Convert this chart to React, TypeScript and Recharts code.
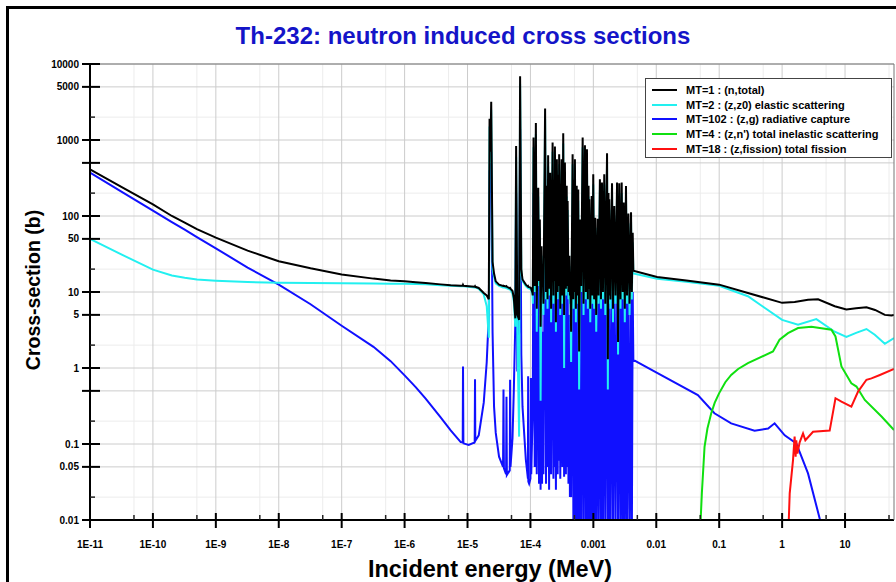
import React from "react";
import { CartesianGrid, Line, LineChart, XAxis, YAxis } from "recharts";

const FONT = '"Liberation Sans", Arial, sans-serif';

// energies in MeV, cross sections in barns

// smooth 1/v region and the first resolved resonances
const lowE = [
  1e-11, 3.2e-11, 1e-10, 2e-10, 3.2e-10, 5e-10, 1e-9, 3.2e-9, 1e-8, 3.2e-8,
  1e-7, 3.2e-7, 6e-7, 1e-6, 1.5e-6,
  2.16e-6, 3.74e-6, 5.4e-6, 7.8e-6, 8.39e-6, 8.48e-6, 8.6e-6, 1.045e-5, 1.3e-5, 1.316e-5,
  1.33e-5, 1.507e-5, 1.81e-5, 2.02e-5, 2.18e-5, 2.24e-5, 2.31e-5, 2.38e-5, 2.5e-5, 2.64e-5,
  2.81e-5, 3.17e-5, 3.67e-5, 3.73e-5, 3.79e-5, 4.1e-5, 4.16e-5, 4.22e-5, 4.69e-5, 4.75e-5,
  4.82e-5, 5.19e-5, 5.44e-5, 5.75e-5, 5.92e-5, 6.19e-5, 6.61e-5, 6.85e-5, 7.16e-5, 7.48e-5,
  8.45e-5, 9.12e-5, 9.19e-5, 9.26e-5, 9.53e-5, 1e-4, 1.015e-4, 1.03e-4, 1.08e-4,
];
const lowTotal = [
  412, 239, 142, 100, 82, 67, 52, 35, 25.4, 20.5,
  17, 15, 14.2, 13.8, 13.4,
  13.1, 12.6, 12.3, 12.1, 12.1, 12.4, 12.1, 11.9, 11.7, 11.9,
  11.7, 11.3, 9.7, 9, 8, 1900, 700, 3190, 25, 17.5,
  13.8, 12.5, 12, 12.1, 12, 11.8, 11.9, 11.7, 11.2, 11.3,
  11.1, 10.3, 8.4, 4.5, 836, 5, 4.3, 6890, 20, 14.6,
  12.5, 11.8, 11.9, 11.7, 11.6, 11.4, 11.3, 11, 9.7,
];
const lowElastic = [
  50, 31, 19.7, 16.5, 15.4, 14.6, 14.1, 13.5, 13.2, 13.1,
  13, 12.9, 12.85, 12.8, 12.7,
  12.6, 12.3, 12.1, 11.9, 11.9, 11.9, 11.9, 11.7, 11.5, 11.5,
  11.5, 11, 9.3, 6.5, 2.5, 1500, 500, 2500, 20, 16,
  13, 12, 11.5, 11.5, 11.5, 11.3, 11.3, 11.2, 10.8, 10.8,
  10.7, 9.5, 7.5, 3.5, 600, 3, 0.125, 5500, 18, 14,
  12, 11.3, 11.3, 11.2, 11.1, 10.9, 10.8, 10.5, 9,
];
const lowCapture = [
  372, 208, 118, 83, 66, 52.6, 37.5, 21, 12.5, 6.9,
  3.6, 1.9, 1.23, 0.8, 0.56,
  0.396, 0.224, 0.151, 0.106, 0.105, 1.05, 0.102, 0.097, 0.105, 0.71,
  0.11, 0.13, 0.35, 1.2, 5, 400, 200, 700, 3, 0.31,
  0.14, 0.068, 0.05, 0.52, 0.048, 0.04, 0.42, 0.039, 0.045, 0.7,
  0.05, 0.12, 0.5, 3.9, 200, 0.9, 3, 1400, 1.5, 0.31,
  0.062, 0.035, 0.78, 0.032, 0.03, 0.035, 0.74, 0.04, 0.21,
];

// dense resolved resonance region, ~0.1 keV to ~4 keV
const denseE = [
  1.09e-4, 1.12e-4, 1.17e-4, 1.22e-4, 1.26e-4, 1.33e-4, 1.37e-4, 1.41e-4, 1.45e-4, 1.5e-4,
  1.53e-4, 1.56e-4, 1.61e-4, 1.71e-4, 1.77e-4, 1.82e-4, 1.87e-4, 1.91e-4, 1.98e-4, 2.06e-4,
  2.13e-4, 2.25e-4, 2.32e-4, 2.38e-4, 2.42e-4, 2.45e-4, 2.54e-4, 2.63e-4, 2.71e-4, 2.78e-4,
  2.82e-4, 2.86e-4, 2.98e-4, 3.13e-4, 3.22e-4, 3.32e-4, 3.43e-4, 3.53e-4, 3.66e-4, 3.77e-4,
  3.83e-4, 3.9e-4, 4.02e-4, 4.16e-4, 4.24e-4, 4.29e-4, 4.43e-4, 4.68e-4, 4.82e-4, 4.94e-4,
  5.02e-4, 5.09e-4, 5.28e-4, 5.44e-4, 5.56e-4, 5.75e-4, 5.94e-4, 6.18e-4, 6.41e-4, 6.76e-4,
  6.98e-4, 7.35e-4, 7.6e-4, 7.91e-4, 8.17e-4, 8.39e-4, 8.51e-4, 8.61e-4, 8.93e-4, 9.4e-4,
  9.68e-4, 9.96e-4, 1.03e-3, 1.07e-3, 1.11e-3, 1.17e-3, 1.21e-3, 1.27e-3, 1.32e-3, 1.37e-3,
  1.42e-3, 1.49e-3, 1.55e-3, 1.65e-3, 1.7e-3, 1.74e-3, 1.77e-3, 1.79e-3, 1.87e-3, 1.98e-3,
  2.05e-3, 2.15e-3, 2.25e-3, 2.38e-3, 2.47e-3, 2.58e-3, 2.7e-3, 2.82e-3, 2.93e-3, 3.04e-3,
  3.16e-3, 3.3e-3, 3.43e-3, 3.6e-3, 3.76e-3, 3.97e-3, 4.09e-3, 4.22e-3, 4.32e-3,
];
const denseTotal = [
  9, 1080, 12, 1670, 6, 236, 14, 90, 3.5, 40,
  12, 21.8, 7, 2600, 10, 250, 8, 630, 11, 372,
  6, 927, 9, 300, 14, 820, 4, 558, 10, 350,
  12, 650, 6, 558, 9, 1230, 5, 505, 11, 250,
  12, 157, 10, 30, 9, 17.9, 3, 650, 8, 300,
  10, 558, 6, 250, 9, 224, 1.65, 90, 12, 1080,
  7, 853, 10, 757, 8, 250, 11, 166, 6, 183,
  9, 354, 8, 95, 5, 92, 9, 304, 8, 275,
  10, 354, 7, 670, 1.3, 200, 9, 166, 8, 269,
  6, 135, 9, 275, 2.2, 269, 8, 275, 10, 150,
  6, 248, 9, 108, 7, 112, 10, 60, 19,
];
const denseElastic = [
  7, 800, 10, 1200, 3, 180, 12, 70, 0.37, 30,
  10, 18, 5, 1900, 8, 180, 6, 450, 9, 280,
  4, 700, 7, 220, 12, 600, 3, 400, 8, 250,
  10, 480, 5, 400, 7, 900, 1.0, 380, 9, 180,
  10, 120, 8, 22, 7, 15, 1.2, 480, 6, 220,
  8, 400, 4, 180, 7, 160, 0.52, 65, 10, 800,
  5, 620, 8, 550, 6, 180, 9, 120, 4, 130,
  7, 260, 6, 70, 3, 70, 7, 220, 6, 200,
  8, 260, 5, 500, 0.52, 150, 7, 120, 6, 200,
  4, 100, 7, 200, 1.5, 200, 6, 200, 8, 110,
  4, 180, 7, 80, 5, 85, 8, 45, 17.5,
];
const denseCapture = [
  0.4, 200, 0.05, 300, 0.04, 40, 0.03, 10, 0.025, 6,
  0.03, 3, 0.04, 400, 0.03, 40, 0.05, 90, 0.025, 60,
  0.04, 150, 0.035, 45, 0.05, 120, 0.025, 80, 0.04, 50,
  0.06, 100, 0.035, 80, 0.05, 200, 0.037, 70, 0.04, 40,
  0.05, 20, 0.03, 5, 0.02, 2, 0.02, 100, 0.005, 45,
  0.008, 80, 0.005, 40, 0.005, 30, 0.005, 12, 0.005, 200,
  0.005, 150, 0.005, 120, 0.006, 40, 0.005, 25, 0.005, 25,
  0.005, 50, 0.005, 14, 0.005, 14, 0.005, 45, 0.005, 40,
  0.005, 50, 0.005, 100, 0.005, 30, 0.005, 25, 0.005, 40,
  0.005, 20, 0.005, 40, 0.005, 40, 0.005, 40, 0.005, 20,
  0.005, 35, 0.005, 15, 0.005, 15, 0.005, 10, 1.28,
];

// smooth fast-neutron region
const totalHiE = [0.0103, 0.03, 0.1, 0.286, 0.526, 1.0, 1.58, 2.58, 3.73, 6.86, 10.5, 15, 21.9, 30, 42.9, 54.8, 60];
const totalHi = [15.8, 14.2, 12.5, 9.7, 8.4, 7.2, 7.4, 7.9, 8.0, 6.5, 5.9, 6.1, 6.3, 5.8, 5.0, 4.9, 5.0];

const elasticHiE = [0.0103, 0.03, 0.1, 0.286, 0.526, 1.0, 1.79, 3.5, 6.86, 10.5, 15, 21.9, 29.7, 42.9, 60];
const elasticHi = [14.9, 13.6, 12.1, 8.8, 6.2, 4.3, 3.7, 4.4, 3.0, 2.56, 2.9, 3.26, 2.74, 2.08, 2.48];

const captureHiE = [0.0103, 0.0458, 0.084, 0.155, 0.365, 0.6, 0.76, 1.1, 1.68, 2.58, 3.95, 4.4];
const captureHi = [0.86, 0.44, 0.254, 0.187, 0.15, 0.16, 0.187, 0.13, 0.102, 0.041, 0.0105, 0.006];

const inelE = [0.0503, 0.051, 0.053, 0.0585, 0.065, 0.0747, 0.085, 0.1, 0.125, 0.155, 0.2, 0.286, 0.716, 0.91, 1.24, 1.79, 2.92, 6.07, 7.05, 8.77, 12.6, 15.2, 20.6, 38, 60];
const inel = [0.004, 0.011, 0.0224, 0.092, 0.16, 0.254, 0.35, 0.467, 0.65, 0.81, 0.97, 1.16, 1.65, 2.36, 2.88, 3.36, 3.5, 3.19, 2.6, 1.05, 0.63, 0.57, 0.38, 0.23, 0.153];

const fisE = [1.24, 1.32, 1.49, 1.58, 1.64, 1.68, 1.75, 1.9, 2.15, 2.34, 3.1, 5.7, 7.05, 8.77, 12.6, 16.1, 21.9, 26.3, 35.8, 60];
const fis = [0.005, 0.0224, 0.0615, 0.125, 0.068, 0.112, 0.075, 0.105, 0.138, 0.112, 0.145, 0.15, 0.4, 0.36, 0.31, 0.49, 0.7, 0.73, 0.81, 0.97];

const seriesNames = [
  "MT=1 : (n,total)",
  "MT=2 : (z,z0) elastic scattering",
  "MT=102 : (z,g) radiative capture",
  "MT=4 : (z,n') total inelastic scattering",
  "MT=18 : (z,fission) total fission",
];
const seriesColors = ["#000000", "#22f0f0", "#1010ff", "#10e010", "#ff1010"];

const xMajor = [1e-11, 1e-10, 1e-9, 1e-8, 1e-7, 1e-6, 1e-5, 1e-4, 1e-3, 0.01, 0.1, 1, 10];
const xMinor = [5e-11, 5e-10, 5e-9, 5e-8, 5e-7, 5e-6, 5e-5, 5e-4, 5e-3, 0.05, 0.5, 5, 50];
const xLabels = ["1E-11", "1E-10", "1E-9", "1E-8", "1E-7", "1E-6", "1E-5", "1E-4", "0.001", "0.01", "0.1", "1", "10"];

const yTicks = [0.01, 0.02, 0.05, 0.1, 0.2, 0.5, 1, 2, 5, 10, 20, 50, 100, 200, 500, 1000, 2000, 5000, 10000];
const yLabeled = [0.01, 0.05, 0.1, 1, 5, 10, 50, 100, 1000, 5000, 10000];
const yLong = [0.01, 0.05, 0.1, 0.5, 1, 5, 10, 50, 100, 500, 1000, 5000, 10000];
const yMinorGrid = [0.02, 0.2, 2, 20, 200, 2000];

const xTicks = xMajor.flatMap((v, i) => [v, xMinor[i]]);

const toPoints = (e: number[], xs: number[]) => e.map((v, i) => ({ e: v, xs: xs[i] }));

const totalData = [...toPoints(lowE, lowTotal), ...toPoints(denseE, denseTotal), ...toPoints(totalHiE, totalHi)];
const elasticData = [...toPoints(lowE, lowElastic), ...toPoints(denseE, denseElastic), ...toPoints(elasticHiE, elasticHi)];
const captureData = [...toPoints(lowE, lowCapture), ...toPoints(denseE, denseCapture), ...toPoints(captureHiE, captureHi)];
const inelData = toPoints(inelE, inel);
const fisData = toPoints(fisE, fis);

function XTick(props: any) {
  const { x, y, payload } = props;
  const i = xMajor.indexOf(payload.value);
  if (i < 0) {
    return <line x1={x} y1={y - 5} x2={x} y2={y} stroke="#222" strokeWidth={1.5} />;
  }
  return (
    <g>
      <line x1={x} y1={y - 7} x2={x} y2={y + 8} stroke="#000" strokeWidth={2} />
      <text x={x} y={y + 28} textAnchor="middle" fontFamily={FONT} fontSize={10} fontWeight={700} fill="#000">
        {xLabels[i]}
      </text>
    </g>
  );
}

function YTick(props: any) {
  const { x, y, payload } = props;
  const v = payload.value;
  if (!yLong.includes(v)) {
    return <line x1={x} y1={y} x2={x + 5} y2={y} stroke="#222" strokeWidth={1.5} />;
  }
  return (
    <g>
      <line x1={x - 8} y1={y} x2={x + 10} y2={y} stroke="#000" strokeWidth={2} />
      {yLabeled.includes(v) && (
        <text x={x - 11} y={y} dy="0.35em" textAnchor="end" fontFamily={FONT} fontSize={10} fontWeight={700} fill="#000">
          {String(v)}
        </text>
      )}
    </g>
  );
}

export default function App() {
  return (
    <div style={{ position: "absolute", left: 0, top: 0, width: 896, height: 582, background: "#fff", overflow: "hidden", fontFamily: FONT }}>
      <div style={{ position: "absolute", left: 6, top: 6, width: 1000, height: 1000, borderLeft: "3px solid #000", borderTop: "3px solid #000" }} />
      <div style={{ position: "absolute", left: 463, top: 36, transform: "translate(-50%, -50%)", color: "#1414c8", fontSize: 24, fontWeight: 700, whiteSpace: "nowrap" }}>
        Th-232: neutron induced cross sections
      </div>
      <div style={{ position: "absolute", left: 0, top: 0 }}>
        <LineChart width={896} height={582} margin={{ top: 64, right: 2, bottom: 22, left: 10 }}>
          <CartesianGrid stroke="#ececec" verticalValues={xMinor} horizontalValues={yMinorGrid} />
          <CartesianGrid stroke="#cccccc" verticalValues={xMajor} horizontalValues={yLong} />
          <XAxis
            dataKey="e"
            type="number"
            scale="log"
            domain={[1e-11, 60]}
            allowDataOverflow
            ticks={xTicks}
            interval={0}
            tick={<XTick />}
            tickLine={false}
            tickSize={0}
            tickMargin={0}
            height={40}
            axisLine={{ stroke: "#000", strokeWidth: 2 }}
          />
          <XAxis
            xAxisId="top"
            orientation="top"
            dataKey="e"
            type="number"
            scale="log"
            domain={[1e-11, 60]}
            allowDataOverflow
            ticks={xTicks}
            interval={0}
            tick={false}
            tickSize={5}
            mirror
            height={1}
            axisLine={{ stroke: "#777" }}
            tickLine={{ stroke: "#444" }}
          />
          <YAxis
            type="number"
            scale="log"
            domain={[0.01, 10000]}
            allowDataOverflow
            ticks={yTicks}
            interval={0}
            tick={<YTick />}
            tickLine={false}
            tickSize={0}
            tickMargin={0}
            width={80}
            axisLine={{ stroke: "#000", strokeWidth: 2 }}
          />
          <YAxis
            yAxisId="right"
            orientation="right"
            type="number"
            scale="log"
            domain={[0.01, 10000]}
            allowDataOverflow
            ticks={yTicks}
            interval={0}
            tick={false}
            tickSize={5}
            mirror
            width={1}
            axisLine={{ stroke: "#777" }}
            tickLine={{ stroke: "#444" }}
          />
          <Line data={captureData} dataKey="xs" type="linear" stroke={seriesColors[2]} strokeWidth={2} dot={false} activeDot={false} isAnimationActive={false} />
          <Line data={elasticData} dataKey="xs" type="linear" stroke={seriesColors[1]} strokeWidth={2} dot={false} activeDot={false} isAnimationActive={false} />
          <Line data={totalData} dataKey="xs" type="linear" stroke={seriesColors[0]} strokeWidth={2} dot={false} activeDot={false} isAnimationActive={false} />
          <Line data={inelData} dataKey="xs" type="linear" stroke={seriesColors[3]} strokeWidth={2} dot={false} activeDot={false} isAnimationActive={false} />
          <Line data={fisData} dataKey="xs" type="linear" stroke={seriesColors[4]} strokeWidth={2} dot={false} activeDot={false} isAnimationActive={false} />
        </LineChart>
      </div>
      <div style={{ position: "absolute", left: 645, top: 78, width: 247, height: 80, border: "1px solid #444", background: "#fff", boxSizing: "border-box", padding: "4px 0 0 6px" }}>
        {seriesNames.map((n, i) => (
          <div key={n} style={{ display: "flex", alignItems: "center", height: 14.6 }}>
            <span style={{ display: "inline-block", width: 25, height: 0, borderTop: `2.5px solid ${seriesColors[i]}`, marginRight: 9 }} />
            <span style={{ fontSize: 11, fontWeight: 700, whiteSpace: "nowrap" }}>{n}</span>
          </div>
        ))}
      </div>
      <div style={{ position: "absolute", left: 33, top: 290, transform: "translate(-50%, -50%) rotate(-90deg)", fontSize: 19.5, fontWeight: 700, whiteSpace: "nowrap" }}>
        Cross-section (b)
      </div>
      <div style={{ position: "absolute", left: 490, top: 569, transform: "translate(-50%, -50%)", fontSize: 23.5, fontWeight: 700, whiteSpace: "nowrap" }}>
        Incident energy (MeV)
      </div>
    </div>
  );
}
